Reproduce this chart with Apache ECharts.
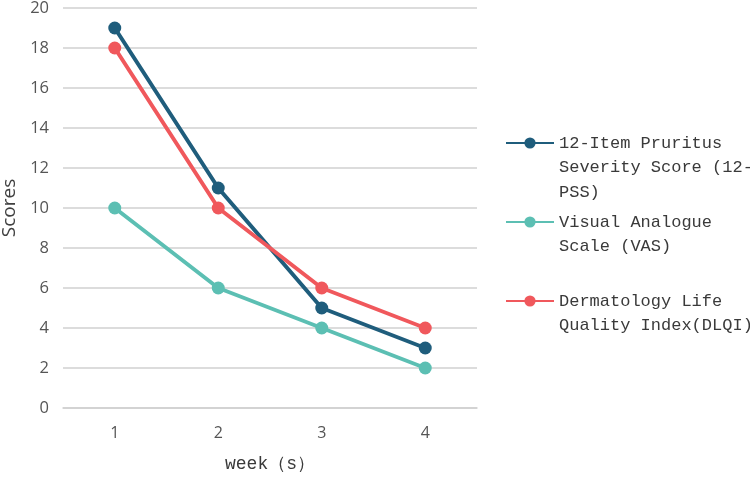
<!DOCTYPE html>
<html><head><meta charset="utf-8">
<script src="https://cdn.jsdelivr.net/npm/echarts@6/dist/echarts.min.js"></script>
<style>html,body{margin:0;padding:0;background:#fff}#c{width:750px;height:478px}</style>
</head><body><div id="c"></div>
<script>
const categories = ['1', '2', '3', '4'];
const pss = [19, 11, 5, 3];
const vas = [10, 6, 4, 2];
const dlqi = [18, 10, 6, 4];
const seriesNames = ['12-Item Pruritus Severity Score (12-PSS)', 'Visual Analogue Scale (VAS)', 'Dermatology Life Quality Index(DLQI)'];
const legendLabels = ['12-Item Pruritus\nSeverity Score (12-\nPSS)', 'Visual Analogue\nScale (VAS)', 'Dermatology Life\nQuality Index(DLQI)'];
const colors = ['#1f5d7c', '#5cbfb3', '#f0585c'];
const lineH = 24.5;
function legendFor(i, iconCenter) {
  const lines = legendLabels[i].split('\n');
  const pad = '\n'.repeat(lines.length - 1);
  const total = (lines.length * 2 - 1) * lineH;
  return {
    left: 500, top: iconCenter - total / 2 - 5, orient: 'vertical',
    data: [seriesNames[i]], itemWidth: 48, itemHeight: 14,
    formatter: () => pad + legendLabels[i],
    textStyle: { fontFamily: 'Liberation Mono', fontSize: 17, color: '#3a3a3a', lineHeight: lineH }
  };
}
const chart = echarts.init(document.getElementById('c'));
chart.setOption({
  animation: false,
  color: colors,
  grid: { left: 63, right: 273, top: 8, bottom: 70, containLabel: false, outerBoundsMode: 'none' },
  legend: [legendFor(0, 143), legendFor(1, 222), legendFor(2, 301)],
  xAxis: {
    type: 'category', data: categories,
    name: 'week（s）', nameLocation: 'middle', nameGap: 47,
    nameTextStyle: { fontFamily: 'Liberation Mono', fontSize: 18, color: '#3a3a3a' },
    axisLine: { lineStyle: { color: '#d0d0d0', width: 1.5 } },
    axisTick: { show: false },
    axisLabel: { fontFamily: 'Open Sans', fontSize: 16, color: '#555', margin: 17 }
  },
  yAxis: {
    type: 'value', min: 0, max: 20, interval: 2,
    name: 'Scores', nameLocation: 'middle', nameGap: 44,
    nameTextStyle: { fontFamily: 'Open Sans', fontSize: 19, color: '#404040' },
    axisLine: { show: false }, axisTick: { show: false },
    splitLine: { lineStyle: { color: '#d0d0d0', width: 1.5 } },
    axisLabel: { fontFamily: 'Open Sans', fontSize: 16.5, color: '#555', margin: 14 }
  },
  series: [
    { name: seriesNames[0], type: 'line', data: pss, symbol: 'circle', symbolSize: 13, lineStyle: { width: 4 } },
    { name: seriesNames[1], type: 'line', data: vas, symbol: 'circle', symbolSize: 13, lineStyle: { width: 4 } },
    { name: seriesNames[2], type: 'line', data: dlqi, symbol: 'circle', symbolSize: 13, lineStyle: { width: 4 } }
  ]
});
</script></body></html>
